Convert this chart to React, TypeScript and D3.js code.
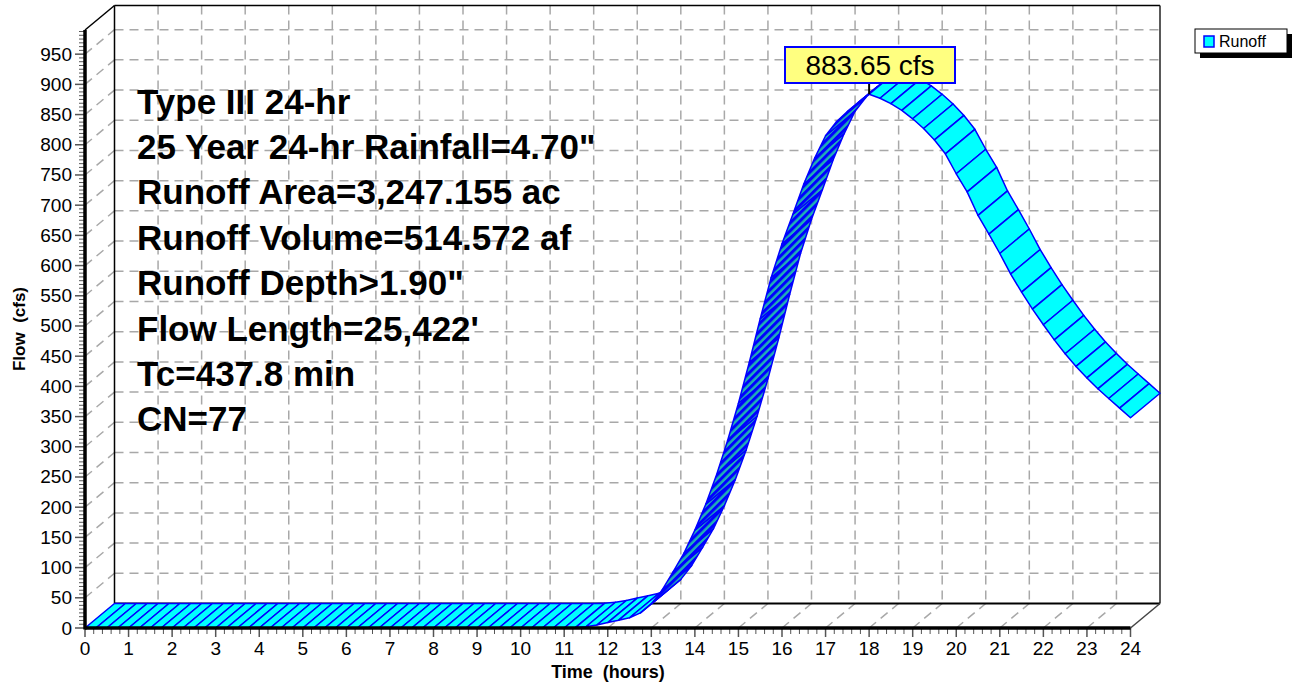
import React, { useEffect, useRef } from "react";
import * as d3 from "d3";

// hydrograph, one value every 0.25 hr from 0 to 24 hr (cfs)
const timeStep = 0.25;
const runoffFlow = [
  0, 0, 0, 0, 0, 0, 0, 0, 0, 0, 0, 0, 0, 0, 0, 0,
  0, 0, 0, 0, 0, 0, 0, 0, 0, 0, 0, 0, 0, 0, 0, 0,
  0, 0, 0, 0, 0, 0, 0, 0, 0, 0, 0, 0, 0,
  0.3, 2, 5, 9, 13, 17, 25, 40,
  63, 93, 124, 162, 205, 254, 310, 372,
  440, 512, 580, 636, 685, 735, 778, 815,
  838, 855, 870, 883.65, 877, 868, 857, 843,
  827, 808, 785, 752, 722, 683, 652, 620,
  586, 556, 528, 502, 477, 454, 433, 414,
  396, 380, 364, 348
];
const xTickHours = d3.range(0, 25);
const yTickFlows = d3.range(0, 951, 50);
const infoLines = [
  "Type III 24-hr",
  '25 Year 24-hr Rainfall=4.70"',
  "Runoff Area=3,247.155 ac",
  "Runoff Volume=514.572 af",
  'Runoff Depth>1.90"',
  "Flow Length=25,422'",
  "Tc=437.8 min",
  "CN=77"
];
const peakLabel = "883.65 cfs";
const seriesName = "Runoff";

const width = 1294;
const height = 686;
const plot = { left: 85, right: 1130.5, top: 30, bottom: 628 };
const depth = { dx: 29.5, dy: -24.5 };
const font = '"Liberation Sans", Arial, sans-serif';

const draw = (node: SVGSVGElement) => {
  const svg = d3.select(node);
  svg.selectAll("*").remove();
  const { dx, dy } = depth;
  const x = d3.scaleLinear().domain([0, 24]).range([plot.left, plot.right]);
  const y = d3.scaleLinear().domain([0, 990]).range([plot.bottom, plot.top]);

  // hatch for the underside of the ribbon
  const hatch = svg
    .append("defs")
    .append("pattern")
    .attr("id", "backHatch")
    .attr("width", 5.5)
    .attr("height", 10)
    .attr("patternUnits", "userSpaceOnUse")
    .attr("patternTransform", "rotate(45)");
  hatch.append("rect").attr("width", 5.5).attr("height", 10).attr("fill", "#20b2b4");
  hatch.append("rect").attr("width", 3).attr("height", 10).attr("fill", "#0000ff");

  // dashed grid on back wall, left wall and floor
  const grid = svg
    .append("g")
    .attr("stroke", "#a8a8a8")
    .attr("stroke-width", 1.5)
    .attr("stroke-dasharray", "9,6")
    .attr("fill", "none");
  yTickFlows
    .filter(v => v > 0)
    .forEach(v => {
      grid.append("line")
        .attr("x1", plot.left + dx).attr("x2", plot.right + dx)
        .attr("y1", y(v) + dy).attr("y2", y(v) + dy);
      grid.append("line")
        .attr("x1", plot.left).attr("y1", y(v))
        .attr("x2", plot.left + dx).attr("y2", y(v) + dy);
    });
  xTickHours
    .filter(h => h > 0 && h < 24)
    .forEach(h => {
      grid.append("line")
        .attr("x1", x(h) + dx).attr("x2", x(h) + dx)
        .attr("y1", plot.top + dy).attr("y2", plot.bottom + dy);
      grid.append("line")
        .attr("x1", x(h)).attr("y1", plot.bottom)
        .attr("x2", x(h) + dx).attr("y2", plot.bottom + dy);
    });

  // box frame
  const frame = svg.append("g").attr("fill", "none");
  const seg = (x1, y1, x2, y2, w, c = "#000") =>
    frame.append("line")
      .attr("x1", x1).attr("y1", y1).attr("x2", x2).attr("y2", y2)
      .attr("stroke-width", w).attr("stroke", c);
  seg(plot.left + dx, plot.top + dy, plot.right + dx, plot.top + dy, 1.5);
  seg(plot.left + dx, plot.top + dy, plot.left + dx, plot.bottom + dy, 1.5);
  seg(plot.right + dx, plot.top + dy, plot.right + dx, plot.bottom + dy, 1.5, "#222");
  seg(plot.left + dx, plot.bottom + dy, plot.right + dx, plot.bottom + dy, 2);
  seg(plot.left, plot.top, plot.left + dx, plot.top + dy, 1.5);
  seg(plot.right, plot.bottom, plot.right + dx, plot.bottom + dy, 1.5, "#444");

  // ribbon: top face cyan, underside hatched
  const pts = runoffFlow.map((q, i) => [x(i * timeStep), y(q)]);
  const line = d3.line();
  const ribbon = svg.append("g").attr("stroke", "#0000ff").attr("stroke-linejoin", "round");
  for (let i = 0; i < pts.length - 1; i++) {
    const [x0, y0] = pts[i];
    const [x1, y1] = pts[i + 1];
    const cross = (x1 - x0) * dy - (y1 - y0) * dx;
    const front = cross < 0;
    ribbon.append("path")
      .attr("d", line([[x0, y0], [x1, y1], [x1 + dx, y1 + dy], [x0 + dx, y0 + dy]]) + "Z")
      .attr("fill", front ? "#00ffff" : "url(#backHatch)")
      .attr("stroke-width", 1.5);
  }

  // front axes
  const axes = svg.append("g");
  d3.range(0, 990, 6.25).forEach(v => {
    axes.append("line")
      .attr("x1", v % 50 === 0 ? 75 : 79).attr("x2", plot.left)
      .attr("y1", y(v)).attr("y2", y(v))
      .attr("stroke", "#555").attr("stroke-width", v % 50 === 0 ? 1.5 : 1);
  });
  d3.range(0, 24.001, 0.2).forEach(h => {
    const major = Math.abs(h - Math.round(h)) < 0.01;
    axes.append("line")
      .attr("x1", x(h)).attr("x2", x(h))
      .attr("y1", plot.bottom).attr("y2", plot.bottom + (major ? 9 : 6))
      .attr("stroke", "#555").attr("stroke-width", major ? 1.5 : 1);
  });
  axes.append("line")
    .attr("x1", plot.left).attr("x2", plot.left)
    .attr("y1", plot.top).attr("y2", plot.bottom + 1.5)
    .attr("stroke", "#000").attr("stroke-width", 3.5);
  axes.append("line")
    .attr("x1", plot.left).attr("x2", plot.right)
    .attr("y1", plot.bottom).attr("y2", plot.bottom)
    .attr("stroke", "#000").attr("stroke-width", 3.5);

  const labels = svg.append("g").attr("font-family", font).attr("fill", "#000");
  yTickFlows.forEach(v => {
    labels.append("text")
      .attr("x", 72).attr("y", y(v) + 6.5)
      .attr("text-anchor", "end").attr("font-size", 19)
      .text(v);
  });
  xTickHours.forEach(h => {
    labels.append("text")
      .attr("x", x(h)).attr("y", 655)
      .attr("text-anchor", "middle").attr("font-size", 19)
      .text(h);
  });
  labels.append("text")
    .attr("x", 608).attr("y", 678)
    .attr("text-anchor", "middle").attr("font-size", 18).attr("font-weight", "bold")
    .style("white-space", "pre")
    .text("Time  (hours)");
  labels.append("text")
    .attr("transform", "translate(25,329) rotate(-90)")
    .attr("text-anchor", "middle").attr("font-size", 17).attr("font-weight", "bold")
    .style("white-space", "pre")
    .text("Flow  (cfs)");

  // storm info block
  infoLines.forEach((t, i) => {
    labels.append("text")
      .attr("x", 137).attr("y", 113.5 + i * 45.4)
      .attr("font-size", 35).attr("font-weight", "bold")
      .text(t);
  });

  // peak callout
  const px = x(18);
  const peak = svg.append("g");
  peak.append("line")
    .attr("x1", px).attr("x2", px).attr("y1", 83).attr("y2", y(883.65))
    .attr("stroke", "#000").attr("stroke-width", 2);
  peak.append("rect")
    .attr("x", 785).attr("y", 47).attr("width", 170).attr("height", 36)
    .attr("fill", "#ffff80").attr("stroke", "#0000ff").attr("stroke-width", 2);
  peak.append("text")
    .attr("x", 870).attr("y", 75)
    .attr("text-anchor", "middle").attr("font-family", font).attr("font-size", 28)
    .text(peakLabel);

  // legend
  const legend = svg.append("g");
  legend.append("rect").attr("x", 1200).attr("y", 34).attr("width", 92).attr("height", 24).attr("fill", "#000");
  legend.append("rect")
    .attr("x", 1195).attr("y", 29).attr("width", 92).attr("height", 24)
    .attr("fill", "#fff").attr("stroke", "#000").attr("stroke-width", 1);
  legend.append("rect")
    .attr("x", 1204).attr("y", 36).attr("width", 10).attr("height", 11)
    .attr("fill", "#00ffff").attr("stroke", "#0000ff").attr("stroke-width", 1.5);
  legend.append("text")
    .attr("x", 1219).attr("y", 47)
    .attr("font-family", font).attr("font-size", 16)
    .text(seriesName);
};

const App = () => {
  const ref = useRef<SVGSVGElement>(null);
  useEffect(() => {
    if (ref.current) draw(ref.current);
  }, []);
  return (
    <svg
      ref={ref}
      width={width}
      height={height}
      style={{ position: "absolute", left: 0, top: 0, background: "#fff" }}
    />
  );
};

export default App;
